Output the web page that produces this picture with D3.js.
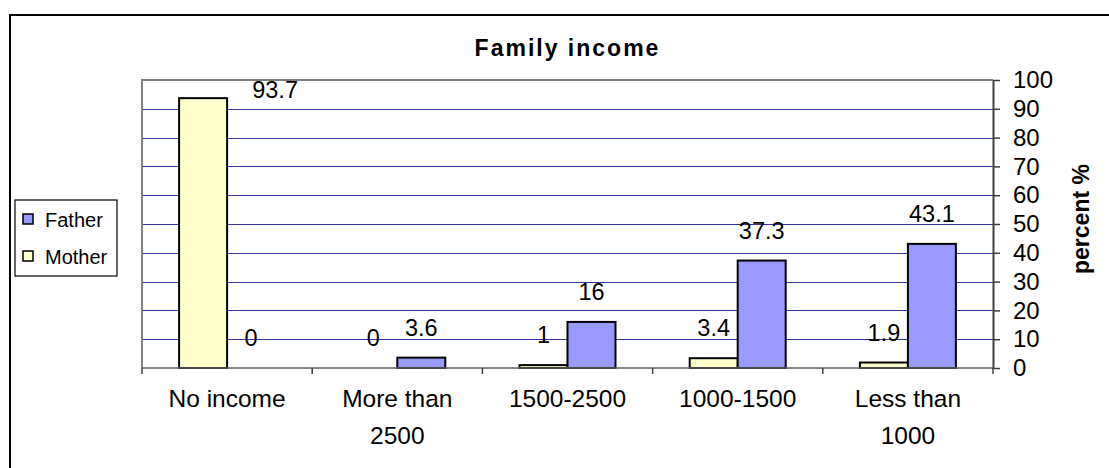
<!DOCTYPE html>
<html>
<head>
<meta charset="utf-8">
<script src="https://cdn.jsdelivr.net/npm/d3@7"></script>
<style>
  html, body { margin: 0; padding: 0; background: #fff; }
  svg { display: block; font-family: "Liberation Sans", Arial, sans-serif; }
</style>
</head>
<body>
<svg id="chart" width="1109" height="468"></svg>
<script>
// Family income: share of mothers / fathers in each income bracket (percent)
const categories = ["No income", "More than 2500", "1500-2500", "1000-1500", "Less than 1000"];
const seriesNames = ["Mother", "Father"];
const motherValues = [93.7, 0, 1, 3.4, 1.9];
const fatherValues = [0, 3.6, 16, 37.3, 43.1];
const yTicks = [0, 10, 20, 30, 40, 50, 60, 70, 80, 90, 100];
const legendOrder = ["Father", "Mother"];

const colors = { Mother: "#FFFFCC", Father: "#9999FF" };
const valuesBySeries = { Mother: motherValues, Father: fatherValues };

const svg = d3.select("#chart");
const plot = { left: 142, right: 993, top: 80, bottom: 368 };

// outer chart frame (runs past the right and bottom edges)
svg.append("rect")
  .attr("x", 10).attr("y", 15)
  .attr("width", 1130).attr("height", 480)
  .attr("fill", "none").attr("stroke", "#000").attr("stroke-width", 2);

const x0 = d3.scaleBand().domain(categories).range([plot.left, plot.right]).padding(0);
const bw = x0.bandwidth();
const groupW = bw * 0.564;
const x1 = d3.scaleBand().domain(seriesNames).range([(bw - groupW) / 2, (bw + groupW) / 2]).padding(0);
const y = d3.scaleLinear().domain([0, 100]).range([plot.bottom, plot.top]);

// horizontal gridlines
svg.append("g").selectAll("line")
  .data(yTicks.filter(t => t > 0 && t < 100))
  .join("line")
  .attr("x1", plot.left).attr("x2", plot.right)
  .attr("y1", d => Math.round(y(d)) + 0.5).attr("y2", d => Math.round(y(d)) + 0.5)
  .attr("stroke", "#333399").attr("stroke-width", 1);

// plot area border (top and left)
svg.append("path")
  .attr("d", `M${plot.left},${plot.bottom} V${plot.top} H${plot.right}`)
  .attr("fill", "none").attr("stroke", "#808080").attr("stroke-width", 2);

// bars
const groups = svg.append("g").selectAll("g")
  .data(categories)
  .join("g")
  .attr("transform", d => `translate(${x0(d)},0)`);

groups.selectAll("rect")
  .data((c, i) => seriesNames.map(s => ({ s, v: valuesBySeries[s][i] })))
  .join("rect")
  .attr("x", d => x1(d.s))
  .attr("y", d => y(d.v))
  .attr("width", x1.bandwidth())
  .attr("height", d => y(0) - y(d.v))
  .attr("fill", d => colors[d.s])
  .attr("stroke", "#000").attr("stroke-width", 2);

// value labels; a label that would leave the plot is moved beside its bar
groups.selectAll("text")
  .data((c, i) => seriesNames.map(s => ({ s, v: valuesBySeries[s][i] })))
  .join("text")
  .attr("x", d => {
    const cx = x1(d.s) + x1.bandwidth() / 2;
    return (y(d.v) - 22 - 17 < plot.top) ? cx + 1.5 * x1.bandwidth() : cx;
  })
  .attr("y", d => Math.max(y(d.v) - 22, plot.top + 18))
  .attr("text-anchor", "middle")
  .attr("font-size", 23.5)
  .attr("fill", "#000")
  .text(d => d.v);

// x axis line and category ticks
svg.append("line")
  .attr("x1", plot.left).attr("x2", plot.right)
  .attr("y1", plot.bottom).attr("y2", plot.bottom)
  .attr("stroke", "#606060").attr("stroke-width", 1.5);
svg.append("g").selectAll("line")
  .data(d3.range(categories.length + 1))
  .join("line")
  .attr("x1", i => plot.left + i * bw).attr("x2", i => plot.left + i * bw)
  .attr("y1", plot.bottom).attr("y2", plot.bottom + 6)
  .attr("stroke", "#404040").attr("stroke-width", 1.5);

// category labels, wrapped onto two lines when wider than the band
const catLabels = svg.append("g").selectAll("text")
  .data(categories)
  .join("text")
  .attr("x", d => x0(d) + bw / 2)
  .attr("y", 407)
  .attr("text-anchor", "middle")
  .attr("font-size", 24.5)
  .attr("fill", "#000")
  .text(d => d);

catLabels.each(function(d) {
  const t = d3.select(this);
  if (this.getComputedTextLength() > bw - 30) {
    const words = d.split(" ");
    const last = words.pop();
    t.text(null);
    t.append("tspan").attr("x", x0(d) + bw / 2).text(words.join(" "));
    t.append("tspan").attr("x", x0(d) + bw / 2).attr("dy", 37).text(last);
  }
});

// right value axis
const yAxis = svg.append("g")
  .attr("transform", `translate(${plot.right},0)`)
  .call(d3.axisRight(y).tickValues(yTicks).tickSize(7).tickPadding(13).tickSizeOuter(0));
yAxis.select(".domain").attr("stroke", "#404040").attr("stroke-width", 2);
yAxis.selectAll(".tick line").attr("stroke", "#404040").attr("stroke-width", 1.5);
yAxis.selectAll(".tick text")
  .attr("font-size", 24)
  .attr("font-family", "Liberation Sans, Arial, sans-serif")
  .attr("fill", "#000");

// axis title
svg.append("text")
  .attr("transform", `translate(1089,${(plot.top + plot.bottom) / 2 - 5}) rotate(-90)`)
  .attr("text-anchor", "middle")
  .attr("font-size", 23)
  .attr("font-weight", "bold")
  .text("percent %");

// chart title
svg.append("text")
  .attr("x", (plot.left + plot.right) / 2)
  .attr("y", 56)
  .attr("text-anchor", "middle")
  .attr("font-size", 23)
  .attr("font-weight", "bold")
  .attr("letter-spacing", 2)
  .text("Family income");

// legend
const legend = svg.append("g");
legend.append("rect")
  .attr("x", 15).attr("y", 200).attr("width", 102).attr("height", 76)
  .attr("fill", "#fff").attr("stroke", "#000").attr("stroke-width", 1.2);
const items = legend.selectAll("g.item")
  .data(legendOrder)
  .join("g")
  .attr("class", "item")
  .attr("transform", (d, i) => `translate(0,${i * 37})`);
items.append("rect")
  .attr("x", 23).attr("y", 214).attr("width", 10).attr("height", 10)
  .attr("fill", d => colors[d]).attr("stroke", "#000").attr("stroke-width", 1.5);
items.append("text")
  .attr("x", 45).attr("y", 227)
  .attr("font-size", 20)
  .attr("fill", "#000")
  .text(d => d);
</script>
</body>
</html>
